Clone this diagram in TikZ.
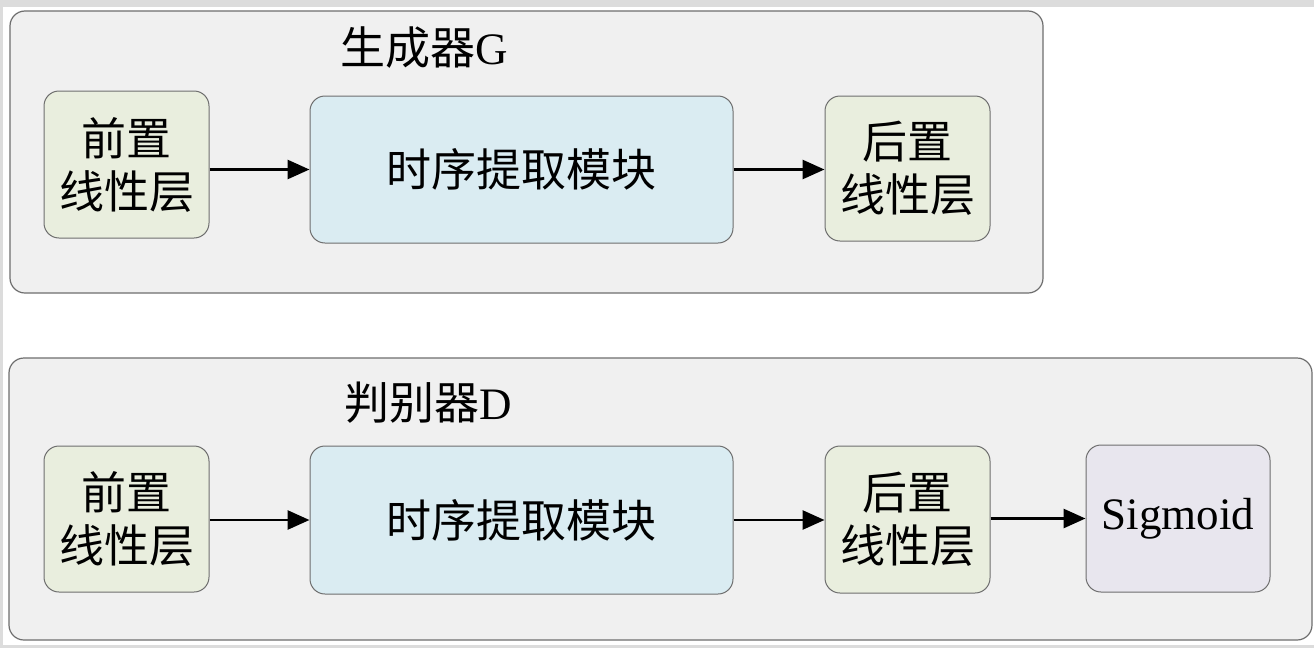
\documentclass[tikz,border=0pt]{standalone}
\usepackage{fontspec}
\setmainfont{Liberation Serif}
\newfontfamily\cjk{Noto Sans CJK SC}
\usetikzlibrary{arrows.meta}
\definecolor{outerfill}{HTML}{F0F0F0}
\definecolor{edgegray}{HTML}{6E6E6E}
\definecolor{greenfill}{HTML}{E9EEDE}
\definecolor{bluefill}{HTML}{DAECF2}
\definecolor{purplefill}{HTML}{E8E6EE}
\definecolor{stripgray}{HTML}{DCDCDC}
\tikzset{
  outerbox/.style={draw=edgegray, fill=outerfill, line width=1.2pt, rounded corners=15pt},
  blockbox/.style={draw=edgegray, line width=1pt, rounded corners=15pt, rectangle, align=center,
    inner sep=0pt, font=\fontsize{45}{53}\selectfont\cjk},
  greenbox/.style={blockbox, fill=greenfill, minimum width=165pt},
  bluebox/.style={blockbox, fill=bluefill, minimum width=423pt},
  purplebox/.style={blockbox, fill=purplefill, minimum width=184pt, font=\fontsize{45}{53}\selectfont},
  titletext/.style={inner sep=0pt, font=\fontsize{45}{53}\selectfont},
  arr/.style={-{Triangle[length=22pt,width=19pt]}, line width=2.8pt, black}
}
\begin{document}
\begin{tikzpicture}[x=1pt,y=-1pt]
\useasboundingbox (0,0) rectangle (1314,648);
\fill[white] (0,0) rectangle (1314,648);
\fill[stripgray] (0,0) rectangle (1314,7);
\fill[stripgray] (0,0) rectangle (3,648);
\fill[stripgray] (0,645) rectangle (1314,648);
% outer frames
\draw[outerbox] (10,11) rectangle (1043,293);
\draw[outerbox] (9,358) rectangle (1312,640);
% titles
\node[titletext] (tg) at (424,48) {{\cjk 生成器}G};
\node[titletext] (td) at (428,403) {{\cjk 判别器}D};
% generator
\node[greenbox, minimum height=147pt] (g1) at (126.5,164.5) {前置\\线性层};
\node[bluebox, minimum height=147pt] (g2) at (521.5,169.5) {时序提取模块};
\node[greenbox, minimum height=145pt] (g3) at (907.5,168.5) {后置\\线性层};
% discriminator
\node[greenbox, minimum height=146pt] (d1) at (126.5,519) {前置\\线性层};
\node[bluebox, minimum height=148pt] (d2) at (521.5,520) {时序提取模块};
\node[greenbox, minimum height=147pt] (d3) at (907.5,519.5) {后置\\线性层};
\node[purplebox, minimum height=147pt] (d4) at (1178,518.5) {Sigmoid};
% arrows
\draw[arr] (g1.east |- g2.west) -- (g2.west);
\draw[arr] (g2.east) -- (g3.west |- g2.east);
\draw[arr] (d1.east |- d2.west) -- (d2.west);
\draw[arr] (d2.east) -- (d3.west |- d2.east);
\draw[arr] (d3.east |- d4.west) -- (d4.west);
\end{tikzpicture}
\end{document}
